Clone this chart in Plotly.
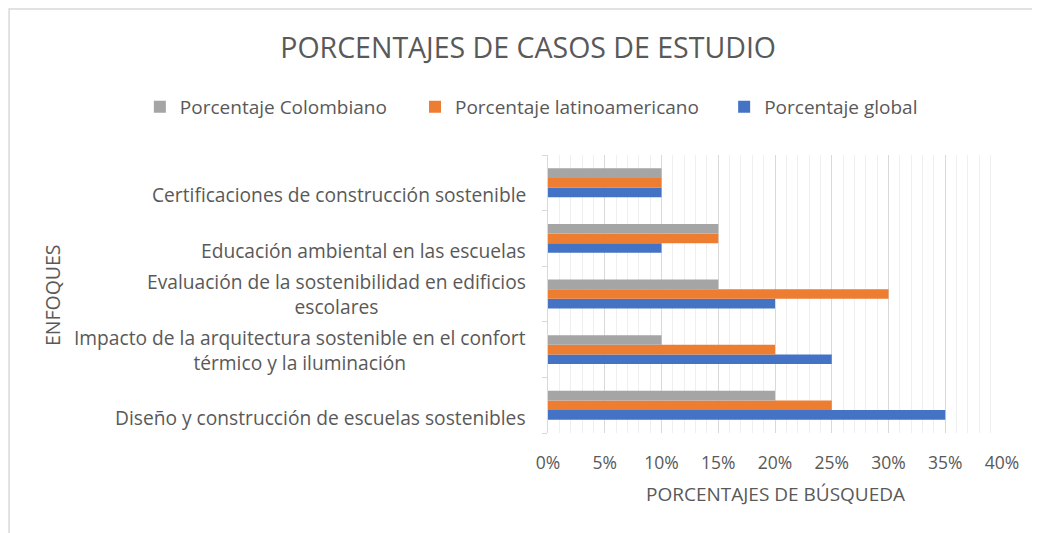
import plotly.graph_objects as go

categories = [
    "Diseño y construcción de escuelas sostenibles",
    "Impacto de la arquitectura sostenible en el confort<br>térmico y la iluminación",
    "Evaluación de la sostenibilidad en edificios<br>escolares",
    "Educación ambiental en las escuelas",
    "Certificaciones de construcción sostenible",
]
global_pct = [35, 25, 20, 10, 10]
latino_pct = [25, 20, 30, 15, 10]
colombia_pct = [20, 10, 15, 15, 10]

series_names = ["Porcentaje global", "Porcentaje latinoamericano", "Porcentaje Colombiano"]
colors = ["#4472C4", "#ED7D31", "#A5A5A5"]
legend_ids = ["legend3", "legend2", "legend"]
x_ticks = [0, 5, 10, 15, 20, 25, 30, 35, 40]
x_tick_labels = [f"{v}%" for v in x_ticks]

FONT = "Open Sans"
TXT = "#595959"
LFS = 19

fig = go.Figure()
for name, vals, col, lg in zip(series_names, [global_pct, latino_pct, colombia_pct], colors, legend_ids):
    fig.add_trace(go.Bar(y=categories, x=vals, name=name, orientation="h", legend=lg,
                         showlegend=True, marker=dict(color=col, line=dict(width=0))))

annotations = []
for c in categories:
    shift = 0 if "<br>" in c else -12
    annotations.append(dict(text=c, xref="paper", yref="y", x=0, y=c, xshift=-20,
                            yshift=shift, xanchor="right", yanchor="middle", align="center",
                            showarrow=False, font=dict(family=FONT, size=19.2, color=TXT)))
annotations.append(dict(text="ENFOQUES", xref="paper", yref="paper", x=-1.0925, y=0.496,
                        textangle=-90, showarrow=False, xanchor="center", yanchor="middle",
                        font=dict(family=FONT, size=19.5, color=TXT)))
annotations.append(dict(text="PORCENTAJES DE BÚSQUEDA", xref="paper", yref="paper", x=0.5, y=-0.219,
                        showarrow=False, xanchor="center", yanchor="middle",
                        font=dict(family=FONT, size=19, color=TXT)))

legend_common = dict(orientation="h", xref="paper", yref="paper", y=1.173,
                     xanchor="left", yanchor="middle",
                     font=dict(family=FONT, size=LFS, color=TXT), itemwidth=30)

fig.update_layout(
    width=1032, height=525,
    showlegend=True,
    margin=dict(l=540, r=38, t=147, b=100, autoexpand=False),
    paper_bgcolor="white", plot_bgcolor="white",
    barmode="group", bargap=0.48, bargroupgap=0,
    font=dict(family=FONT, size=16, color=TXT),
    title=dict(text="PORCENTAJES DE CASOS DE ESTUDIO", xref="container", yref="container",
               x=0.504, y=0.924, xanchor="center", yanchor="middle",
               font=dict(family=FONT, size=28.5, color=TXT)),
    legend=dict(x=-0.899, **legend_common),
    legend2=dict(x=-0.293, **legend_common),
    legend3=dict(x=0.388, **legend_common),
    xaxis=dict(range=[0, 40], tickmode="array", tickvals=x_ticks, ticktext=x_tick_labels,
               showline=False, showgrid=True, gridcolor="#d9d9d9", gridwidth=1, zeroline=False,
               ticks="", ticklabelstandoff=17, tickfont=dict(family=FONT, size=17.5, color=TXT),
               minor=dict(dtick=1, showgrid=True, gridcolor="#efefef", gridwidth=1)),
    yaxis=dict(showticklabels=False, showline=True, linecolor="#d9d9d9", linewidth=1,
               ticks="outside", tickson="boundaries", ticklen=5, tickcolor="#d9d9d9",
               showgrid=False, zeroline=False),
    annotations=annotations,
    shapes=[dict(type="rect", xref="paper", yref="paper", x0=-1.187, x1=1.2,
                 y0=-0.45, y1=1.525, line=dict(color="#d9d9d9", width=1.5),
                 fillcolor="rgba(0,0,0,0)", layer="below")],
)

fig.write_html("out.html")
